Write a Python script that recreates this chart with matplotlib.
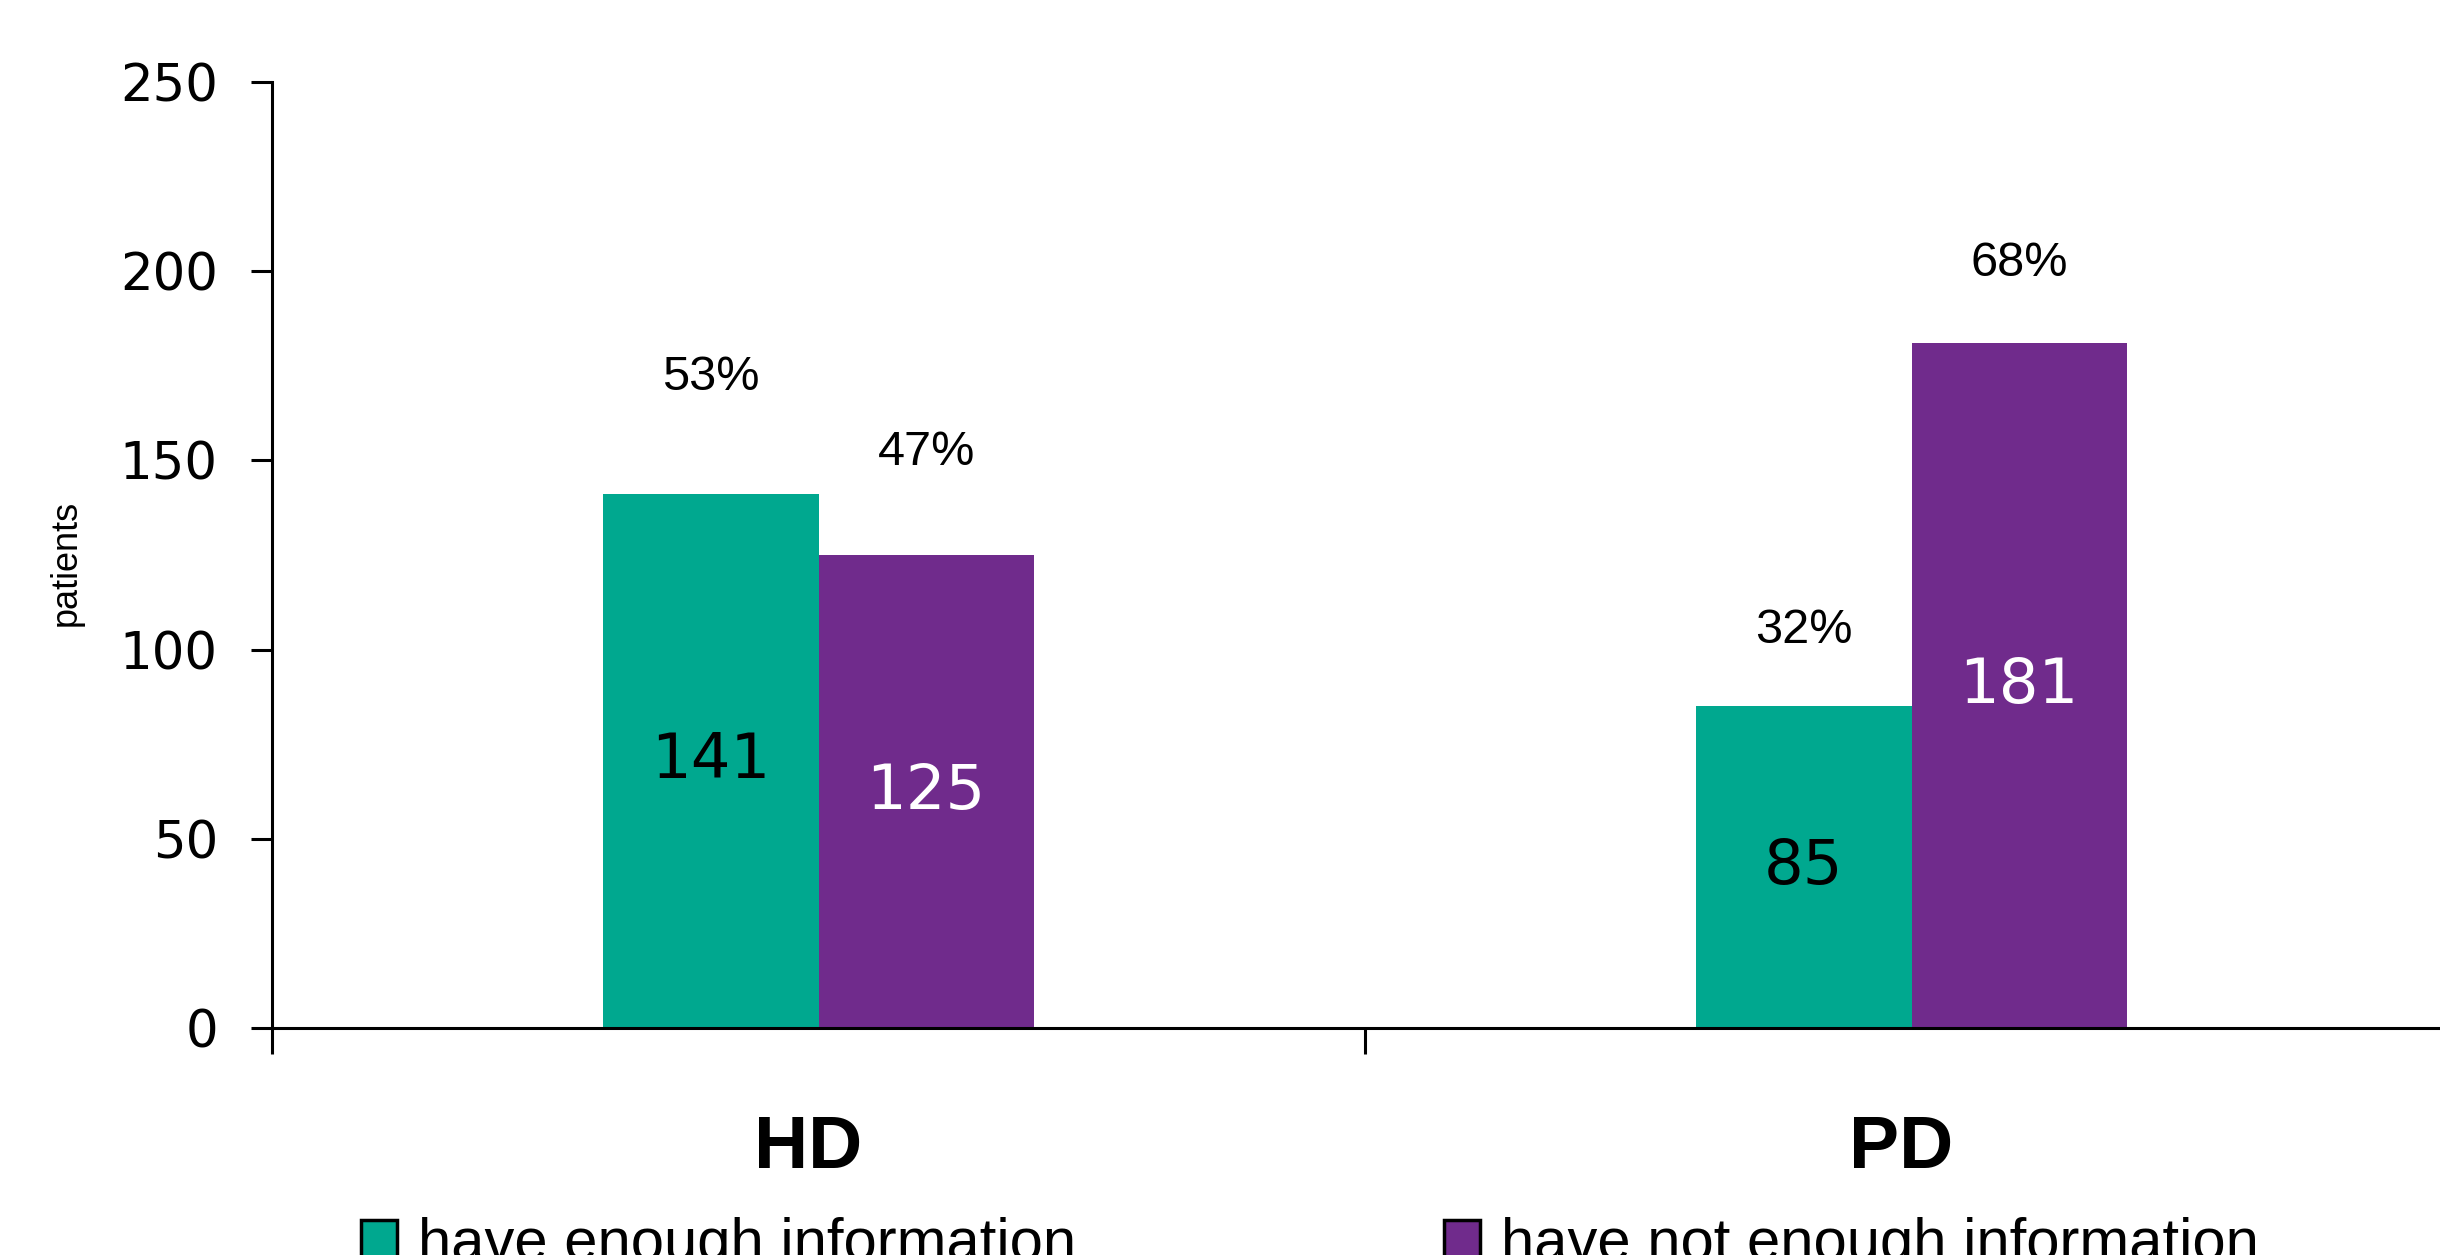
import matplotlib.pyplot as plt
import matplotlib.transforms as mtransforms
import numpy as np
from matplotlib.patches import Patch

# data
categories = ['HD', 'PD']
series_names = ['have enough information', 'have not enough information']
enough = [141, 85]
not_enough = [125, 181]
pct_enough = ['53%', '32%']
pct_not_enough = ['47%', '68%']
y_ticks = [0, 50, 100, 150, 200, 250]

# styles
teal = '#00A88F'
purple = '#702B8C'
pct_offset_enough = [31, 20]
pct_offset_not = [27, 21]

fig = plt.figure(figsize=(24.4, 12.55), dpi=100)
ax = fig.add_axes([272 / 2440, 227 / 1255, 2186 / 2440, 946 / 1255])

x = np.arange(len(categories))
w = 0.197
ax.bar(x - w / 2, enough, w, color=teal)
ax.bar(x + w / 2, not_enough, w, color=purple)

# counts inside the bars, shares above
for i in range(len(categories)):
    ax.text(x[i] - w / 2, enough[i] / 2, str(enough[i]), ha='center', va='center',
            fontsize=45, color='black', family='DejaVu Sans')
    ax.text(x[i] + w / 2, not_enough[i] / 2, str(not_enough[i]), ha='center', va='center',
            fontsize=45, color='white', family='DejaVu Sans')
    ax.text(x[i] - w / 2, enough[i] + pct_offset_enough[i], pct_enough[i],
            ha='center', va='center', fontsize=35, family='Liberation Sans')
    ax.text(x[i] + w / 2, not_enough[i] + pct_offset_not[i], pct_not_enough[i],
            ha='center', va='center', fontsize=35, family='Liberation Sans')

ax.set_xlim(-0.5, 1.5)
ax.set_ylim(0, 250)
ax.set_yticks(y_ticks)
ax.set_xticks(x)
ax.set_xticklabels(categories, fontsize=54, fontweight='bold', family='Liberation Sans')
ax.set_xticks([-0.5, 0.5, 1.5], minor=True)
ax.tick_params(axis='x', which='major', length=0, pad=62)
ax.tick_params(axis='x', which='minor', length=19, width=2.2, direction='out')
ax.tick_params(axis='y', length=15, width=2.2, pad=24, labelsize=37)
for lab in ax.get_yticklabels():
    lab.set_family('DejaVu Sans')
shift = mtransforms.ScaledTranslation(-0.1, 0, fig.dpi_scale_trans)
for lab in ax.get_xticklabels():
    lab.set_transform(lab.get_transform() + shift)

for s in ['top', 'right']:
    ax.spines[s].set_visible(False)
for s in ['left', 'bottom']:
    ax.spines[s].set_linewidth(2.2)

fig.text(66 / 2440, 1 - 563 / 1255, 'patients', rotation=90, ha='center', va='center',
         fontsize=26, family='Liberation Sans')

# legend entries, one per series
lx = [361 / 2440, 1444 / 2440]
for i, col in enumerate([teal, purple]):
    fig.legend(handles=[Patch(facecolor=col, edgecolor='black', linewidth=2.5)],
               labels=[series_names[i]], loc='upper left',
               bbox_to_anchor=(lx[i], 38 / 1255), frameon=False,
               prop={'family': 'Liberation Sans', 'size': 43},
               handlelength=0.6, handleheight=0.6, handletextpad=0.35,
               borderpad=0, borderaxespad=0)

fig.savefig('out.png', dpi=100)
